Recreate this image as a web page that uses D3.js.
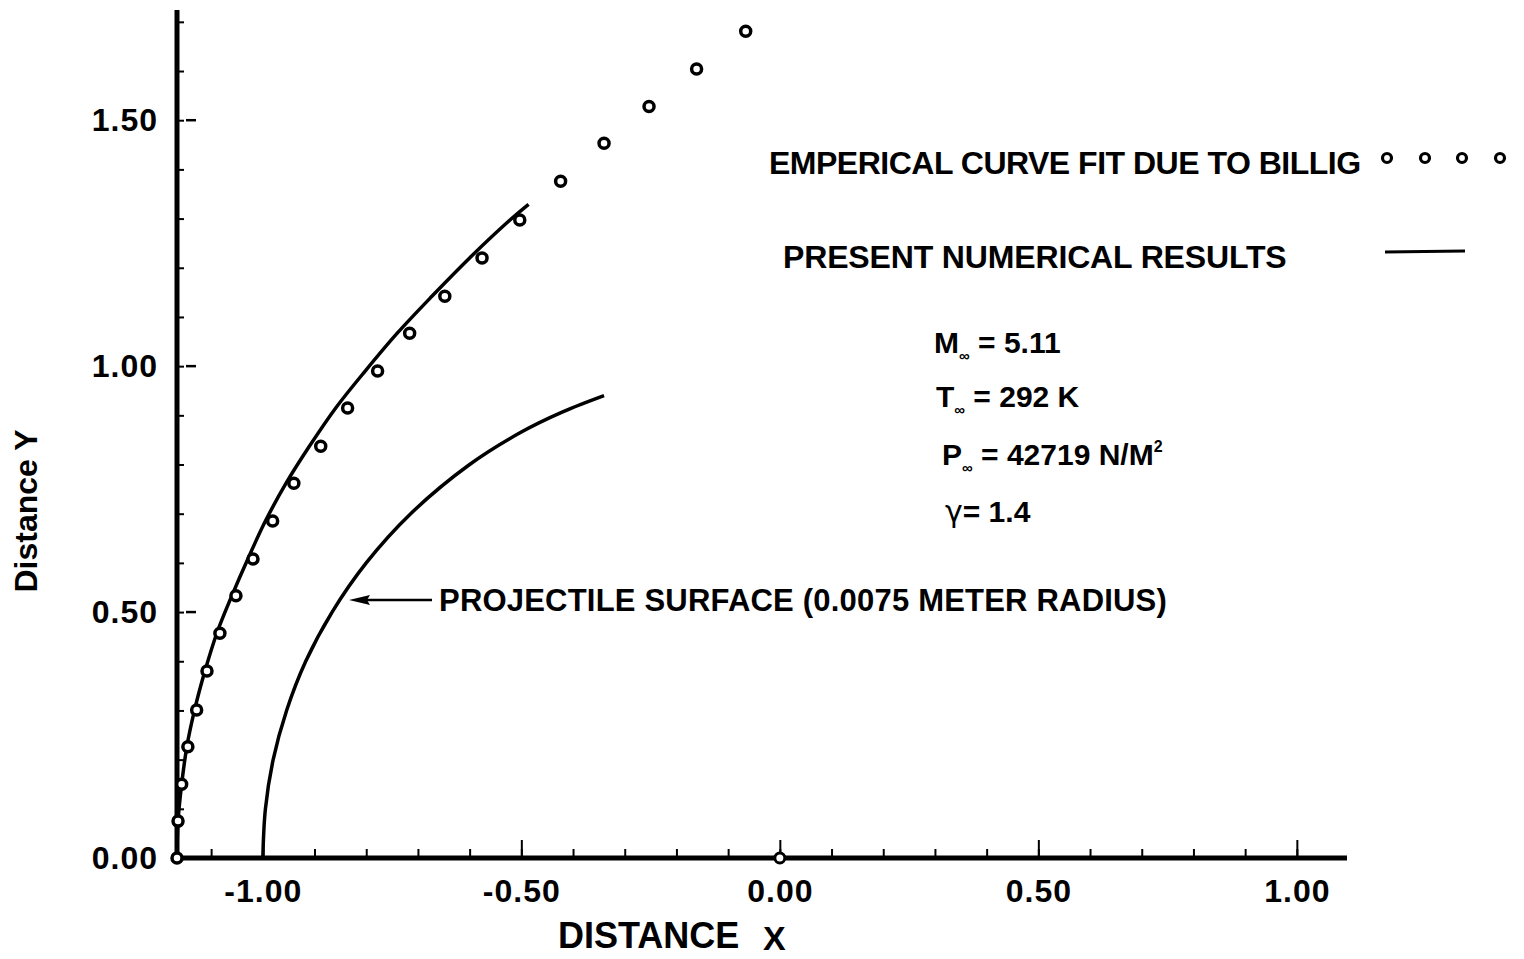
<!DOCTYPE html>
<html>
<head>
<meta charset="utf-8">
<script src="https://cdn.jsdelivr.net/npm/d3@7"></script>
<style>
  body { margin: 0; background: #fff; }
  svg { display: block; background: #fff; }
  text { font-family: "Liberation Sans", Arial, Helvetica, sans-serif; font-weight: bold; fill: #000; }
</style>
</head>
<body>
<svg id="chart" width="1524" height="959"></svg>
<script>
// ---- data ----
const billigX = [-1.166, -1.164, -1.157, -1.145, -1.128, -1.108, -1.083, -1.052, -1.019, -0.981, -0.940, -0.888,
                 -0.836, -0.778, -0.716, -0.648, -0.576, -0.503, -0.424, -0.340, -0.253, -0.161, -0.066];
const billigY = [0.000, 0.075, 0.150, 0.226, 0.301, 0.380, 0.457, 0.533, 0.608, 0.685, 0.762, 0.837,
                 0.915, 0.990, 1.067, 1.142, 1.220, 1.297, 1.376, 1.453, 1.528, 1.604, 1.681];

const numericX = [-1.166, -1.164, -1.157, -1.147, -1.132, -1.112, -1.089, -1.060, -1.029, -0.995, -0.955, -0.910,
                  -0.859, -0.802, -0.740, -0.673, -0.600, -0.522, -0.486];
const numericY = [0.000, 0.075, 0.150, 0.226, 0.301, 0.380, 0.457, 0.533, 0.608, 0.685, 0.762, 0.837,
                  0.915, 0.990, 1.067, 1.142, 1.220, 1.297, 1.329];

const surfaceX = [-1.000, -0.995, -0.980, -0.954, -0.917, -0.866, -0.800, -0.714, -0.600, -0.500, -0.420, -0.340];
const surfaceY = [0.000, 0.100, 0.200, 0.300, 0.400, 0.500, 0.600, 0.700, 0.800, 0.866, 0.907, 0.940];

const originX = [0.0];
const originY = [0.0];

const xMajorTicks = [-1.0, -0.5, 0.0, 0.5, 1.0];
const xMinorTicks = [-1.1, -1.0, -0.9, -0.8, -0.7, -0.6, -0.5, -0.4, -0.3, -0.2, -0.1, 0.0,
                     0.1, 0.2, 0.3, 0.4, 0.5, 0.6, 0.7, 0.8, 0.9, 1.0];
const xTickLabels = ["-1.00", "-0.50", "0.00", "0.50", "1.00"];

const yMajorTicks = [0.0, 0.5, 1.0, 1.5];
const yMinorTicks = [0.1, 0.2, 0.3, 0.4, 0.5, 0.6, 0.7, 0.8, 0.9, 1.0, 1.1, 1.2, 1.3, 1.4, 1.5, 1.6, 1.7];
const yTickLabels = ["0.00", "0.50", "1.00", "1.50"];

const legendLabels = ["EMPERICAL CURVE FIT DUE TO BILLIG", "PRESENT NUMERICAL RESULTS"];
const annotation = "PROJECTILE SURFACE (0.0075 METER RADIUS)";

// ---- scales ----
const svg = d3.select("#chart");
const x = d3.scaleLinear().domain([-1.166, 1.097]).range([177, 1347]);
const y = d3.scaleLinear().domain([0, 1.72]).range([858, 12]);
const X0 = x(-1.166), Y0 = y(0);

// ---- axes ----
const gyMinor = svg.append("g").attr("transform", `translate(${X0},0)`)
  .call(d3.axisRight(y).tickValues(yMinorTicks).tickSize(7).tickFormat(""));
gyMinor.select(".domain").remove();
gyMinor.selectAll("line").attr("stroke", "#000").attr("stroke-width", 2);

svg.append("g").selectAll("line").data(yMajorTicks.slice(1)).join("line")
  .attr("x1", X0 + 9).attr("x2", X0 + 19)
  .attr("y1", d => y(d)).attr("y2", d => y(d))
  .attr("stroke", "#000").attr("stroke-width", 2.5);

const gyLab = svg.append("g").attr("transform", `translate(${X0},0)`)
  .call(d3.axisLeft(y).tickValues(yMajorTicks).tickSize(0).tickPadding(19)
        .tickFormat((d, i) => yTickLabels[i]));
gyLab.select(".domain").remove();
gyLab.selectAll("text").attr("font-size", 32).attr("letter-spacing", "1px")
  .attr("font-family", "Liberation Sans, Arial, sans-serif").attr("font-weight", "bold");

const gxMinor = svg.append("g").attr("transform", `translate(0,${Y0})`)
  .call(d3.axisTop(x).tickValues(xMinorTicks).tickSize(9).tickFormat(""));
gxMinor.select(".domain").remove();
gxMinor.selectAll("line").attr("stroke", "#000").attr("stroke-width", 2);

const gxMajor = svg.append("g").attr("transform", `translate(0,${Y0})`)
  .call(d3.axisTop(x).tickValues(xMajorTicks).tickSize(18).tickFormat(""));
gxMajor.select(".domain").remove();
gxMajor.selectAll("line").attr("stroke", "#000").attr("stroke-width", 2);

const gxLab = svg.append("g").attr("transform", `translate(0,${Y0})`)
  .call(d3.axisBottom(x).tickValues(xMajorTicks).tickSize(0).tickPadding(21)
        .tickFormat((d, i) => xTickLabels[i]));
gxLab.select(".domain").remove();
gxLab.selectAll("text").attr("font-size", 32).attr("letter-spacing", "1px")
  .attr("font-family", "Liberation Sans, Arial, sans-serif").attr("font-weight", "bold");

svg.append("line").attr("x1", X0).attr("x2", X0).attr("y1", y(1.72) - 2).attr("y2", Y0 + 2)
  .attr("stroke", "#000").attr("stroke-width", 5);
svg.append("line").attr("x1", X0).attr("x2", x(1.097)).attr("y1", Y0).attr("y2", Y0)
  .attr("stroke", "#000").attr("stroke-width", 5);

// axis titles
svg.append("text").attr("x", 558).attr("y", 948).attr("font-size", 36).text("DISTANCE");
svg.append("text").attr("x", 763).attr("y", 950).attr("font-size", 34).text("X");
svg.append("text").attr("transform", "translate(37,511) rotate(-90)")
  .attr("text-anchor", "middle").attr("font-size", 32).text("Distance Y");

// ---- curves ----
const line = d3.line().x(d => x(d[0])).y(d => y(d[1])).curve(d3.curveCatmullRom.alpha(0.5));

svg.append("path").datum(surfaceX.map((v, i) => [v, surfaceY[i]]))
  .attr("d", line).attr("fill", "none").attr("stroke", "#000").attr("stroke-width", 3.5);

svg.append("path").datum(numericX.map((v, i) => [v, numericY[i]]))
  .attr("d", line).attr("fill", "none").attr("stroke", "#000").attr("stroke-width", 3.5);

svg.append("g").selectAll("circle").data(billigX.map((v, i) => [v, billigY[i]])).join("circle")
  .attr("cx", d => x(d[0])).attr("cy", d => y(d[1])).attr("r", 5)
  .attr("fill", "#fff").attr("stroke", "#000").attr("stroke-width", 3.5);

svg.append("g").selectAll("circle").data(originX.map((v, i) => [v, originY[i]])).join("circle")
  .attr("cx", d => x(d[0])).attr("cy", d => y(d[1])).attr("r", 5)
  .attr("fill", "#fff").attr("stroke", "#000").attr("stroke-width", 3);

// ---- legend ----
svg.append("text").attr("x", 769).attr("y", 174).attr("font-size", 32).attr("letter-spacing", "-0.5px")
  .text(legendLabels[0]);
svg.append("g").selectAll("circle").data([1387, 1425, 1462, 1500]).join("circle")
  .attr("cx", d => d).attr("cy", 158).attr("r", 4.5)
  .attr("fill", "#fff").attr("stroke", "#000").attr("stroke-width", 3.2);

svg.append("text").attr("x", 783).attr("y", 268).attr("font-size", 32).attr("letter-spacing", "-0.15px")
  .text(legendLabels[1]);
svg.append("line").attr("x1", 1385).attr("x2", 1465).attr("y1", 252).attr("y2", 251)
  .attr("stroke", "#000").attr("stroke-width", 3);

// ---- parameters ----
function param(xp, yp, main, sub, rest, sup, mainFont) {
  const t = svg.append("text").attr("x", xp).attr("y", yp).attr("font-size", 30);
  const m = t.append("tspan").text(main);
  if (mainFont) m.attr("font-family", mainFont).attr("font-weight", "normal");
  if (sub) t.append("tspan").attr("font-size", 15).attr("dy", 8).text(sub);
  t.append("tspan").attr("dy", sub ? -8 : 0).text(rest);
  if (sup) t.append("tspan").attr("font-size", 16).attr("dy", -13).text(sup);
}
param(934, 353, "M", "\u221E", " = 5.11");
param(936, 407, "T", "\u221E", " = 292 K");
param(942, 465, "P", "\u221E", " = 42719 N/M", "2");
param(945, 522, "\u03B3", null, "= 1.4", null, "DejaVu Sans");

// ---- annotation ----
svg.append("line").attr("x1", 432).attr("x2", 362).attr("y1", 600).attr("y2", 600)
  .attr("stroke", "#000").attr("stroke-width", 2.5);
svg.append("path").attr("d", "M349,600 L370,595 L367,600 L370,605 Z").attr("fill", "#000");
svg.append("text").attr("x", 439).attr("y", 611).attr("font-size", 31).attr("letter-spacing", "0.2px")
  .text(annotation);
</script>
</body>
</html>
